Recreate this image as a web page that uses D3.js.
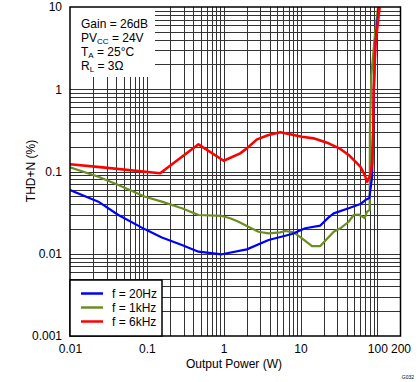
<!DOCTYPE html>
<html><head><meta charset="utf-8">
<script src="https://cdn.jsdelivr.net/npm/d3@7"></script>
<style>body{margin:0;background:#fff}svg{display:block}text{font-family:Arial,"Liberation Sans",sans-serif}</style>
</head><body><svg id="c" width="419" height="382"></svg>
<script>
const xTicks = [0.01, 0.1, 1, 10, 100, 200];
const xTickLabels = ["0.01", "0.1", "1", "10", "100", "200"];
const yTicks = [0.001, 0.01, 0.1, 1, 10];
const yTickLabels = ["0.001", "0.01", "0.1", "1", "10"];
const seriesNames = ["f = 20Hz", "f = 1kHz", "f = 6kHz"];
const seriesColors = ["#0000ff", "#6b8e23", "#ff0000"];
const power20Hz = [0.01,0.0234,0.0426,0.0948,0.157,0.286,0.47,0.948,2.0,3.84,7.74,11.5,18.1,23.2,27,42.3,60.1,69.8,78.7,85.4,88,90,94,104];
const thd20Hz = [0.0596,0.043,0.0296,0.0198,0.0158,0.0128,0.0106,0.00985,0.0113,0.0147,0.0174,0.0204,0.022,0.0277,0.031,0.0357,0.0402,0.045,0.0476,0.0865,0.32,1.0,3.4,10];
const power1kHz = [0.01,0.0234,0.0426,0.0948,0.157,0.286,0.47,0.948,1.216,1.56,2.0,2.84,3.84,5.45,6.34,8.12,10.45,14.1,18.1,27,33,42.3,49.2,57.1,68.4,73.5,79.4,80,83.6,91.5,99.3,102];
const thd1kHz = [0.1125,0.0865,0.0686,0.0494,0.043,0.0357,0.0296,0.0288,0.027,0.0245,0.0217,0.0185,0.0177,0.0182,0.0189,0.0182,0.0154,0.0124,0.0124,0.0185,0.0204,0.0245,0.0296,0.03,0.0271,0.0325,0.034,0.32,1.49,3.97,8.0,10];
const power6kHz = [0.01,0.0246,0.149,0.47,1.0,1.64,2.0,2.71,3.84,5.45,10.45,14.8,23.2,33,42.3,51.7,60.1,68.4,73.5,81.2,85.4,88,89.6,94.3,107];
const thd6kHz = [0.1224,0.113,0.0951,0.214,0.135,0.166,0.191,0.246,0.278,0.300,0.265,0.253,0.220,0.188,0.159,0.1316,0.1144,0.0907,0.0752,0.0907,0.127,0.32,0.98,3.44,10];

const svg = d3.select("#c");
const L = 70, R = 400.5, T = 7, B = 336;
const x = d3.scaleLog().domain([0.01, 200]).range([L, R]);
const y = d3.scaleLog().domain([0.001, 10]).range([B, T]);

// grid
const xGrid = [], yGrid = [];
for (let e = -2; e <= 2; e++) for (let m = 1; m <= 9; m++) { const v = m * Math.pow(10, e); if (v > 0.01 && v < 200) xGrid.push(v); }
for (let e = -3; e <= 0; e++) for (let m = 1; m <= 9; m++) { const v = m * Math.pow(10, e); if (v > 0.001 && v < 10) yGrid.push(v); }
const g = svg.append("g");
g.selectAll(".xg").data(xGrid).join("line").attr("x1", d => Math.round(x(d)) + 0.5).attr("x2", d => Math.round(x(d)) + 0.5)
  .attr("y1", T).attr("y2", B).attr("stroke", "#333").attr("stroke-width", 1);
g.selectAll(".yg").data(yGrid).join("line").attr("y1", d => Math.round(y(d)) + 0.5).attr("y2", d => Math.round(y(d)) + 0.5)
  .attr("x1", L).attr("x2", R).attr("stroke", "#333").attr("stroke-width", 1);

// annotation box (white)
svg.append("rect").attr("x", L).attr("y", T).attr("width", 85).attr("height", 70).attr("fill", "#fff");

// curves
svg.append("clipPath").attr("id", "clip").append("rect").attr("x", L).attr("y", T).attr("width", R - L).attr("height", B - T);
const line = d3.line().x(d => x(d[0])).y(d => y(d[1]));
const data = [
  d3.zip(power1kHz, thd1kHz),
  d3.zip(power20Hz, thd20Hz),
  d3.zip(power6kHz, thd6kHz)
];
const colorsOrder = [seriesColors[1], seriesColors[0], seriesColors[2]];
const widths = [2.2, 2.2, 2.6];
data.forEach((d, i) => {
  svg.append("path").attr("d", line(d)).attr("fill", "none").attr("stroke", colorsOrder[i])
    .attr("stroke-width", widths[i]).attr("clip-path", "url(#clip)").attr("stroke-linejoin", "round");
});

// frame
svg.append("rect").attr("x", L).attr("y", T).attr("width", R - L).attr("height", B - T)
  .attr("fill", "none").attr("stroke", "#000").attr("stroke-width", 1.5);

// axes labels
const xAxis = d3.axisBottom(x).tickValues(xTicks).tickFormat((d, i) => xTickLabels[i]).tickSize(0).tickPadding(8);
const xa = svg.append("g").attr("transform", `translate(0,${B})`).call(xAxis);
xa.select(".domain").remove();
xa.selectAll("text").attr("font-size", 12).attr("fill", "#000").attr("font-family", "Arial, 'Liberation Sans', sans-serif");
const yAxis = d3.axisLeft(y).tickValues(yTicks).tickFormat((d, i) => yTickLabels[i]).tickSize(0).tickPadding(8);
const ya = svg.append("g").attr("transform", `translate(${L},0)`).call(yAxis);
ya.select(".domain").remove();
ya.selectAll("text").attr("font-size", 12).attr("fill", "#000").attr("font-family", "Arial, 'Liberation Sans', sans-serif");

svg.append("text").attr("x", 234).attr("y", 368).attr("text-anchor", "middle").attr("font-size", 12).text("Output Power (W)");
svg.append("text").attr("transform", "translate(35,171) rotate(-90)").attr("text-anchor", "middle").attr("font-size", 12).text("THD+N (%)");
svg.append("text").attr("x", 414).attr("y", 379).attr("text-anchor", "end").attr("font-size", 5).text("G032");

// annotations
const ann = svg.append("g").attr("font-size", 12);
ann.append("text").attr("x", 81).attr("y", 28).text("Gain = 26dB");
const t2 = ann.append("text").attr("x", 81).attr("y", 42);
t2.append("tspan").text("PV");
t2.append("tspan").attr("font-size", 8).attr("dy", 2).text("CC");
t2.append("tspan").attr("dy", -2).text(" = 24V");
const t3 = ann.append("text").attr("x", 81).attr("y", 56);
t3.append("tspan").text("T");
t3.append("tspan").attr("font-size", 8).attr("dy", 2).text("A");
t3.append("tspan").attr("dy", -2).text(" = 25°C");
const t4 = ann.append("text").attr("x", 81).attr("y", 70);
t4.append("tspan").text("R");
t4.append("tspan").attr("font-size", 8).attr("dy", 2).text("L");
t4.append("tspan").attr("dy", -2).text(" = 3Ω");

// legend
svg.append("rect").attr("x", L).attr("y", 280).attr("width", 92).attr("height", 56).attr("fill", "#fff").attr("stroke", "#000").attr("stroke-width", 1.5);
const lg = svg.append("g").selectAll("g").data(seriesNames).join("g").attr("transform", (d, i) => `translate(0,${293.5 + i * 14})`);
lg.append("line").attr("x1", 81).attr("x2", 103).attr("stroke", (d, i) => seriesColors[i]).attr("stroke-width", 2.5);
lg.append("text").attr("x", 112).attr("y", 4.5).attr("font-size", 12).text(d => d);
</script></body></html>
